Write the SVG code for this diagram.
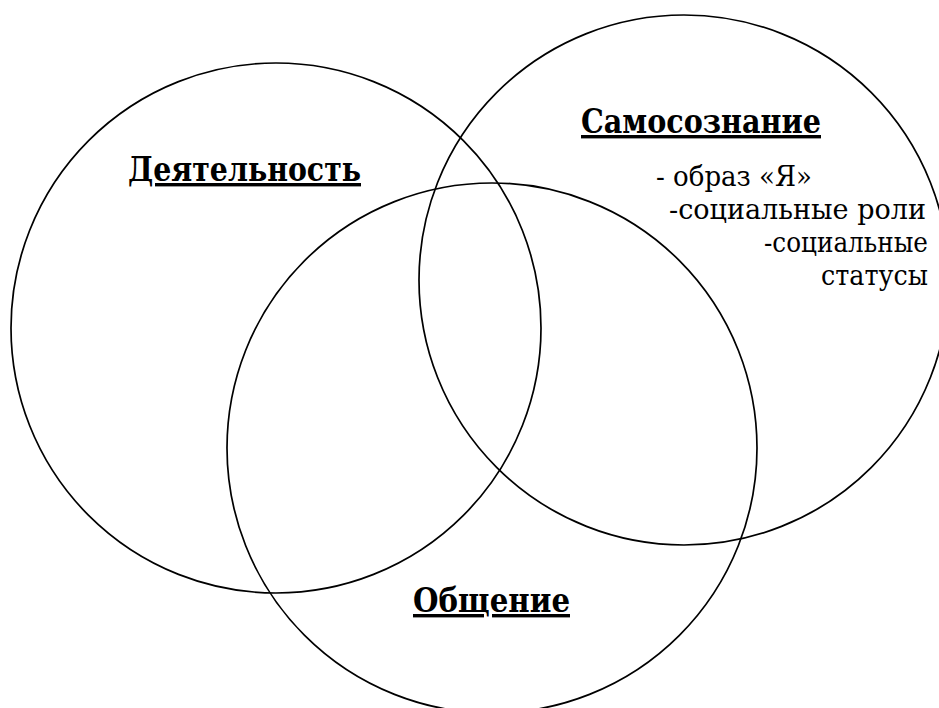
<svg xmlns="http://www.w3.org/2000/svg" width="939" height="708" viewBox="0 0 939 708">
<style>
.c{fill:none;stroke:#000;stroke-width:1.7}
.h{font-family:'DejaVu Serif',serif;font-weight:bold;font-size:34px;text-decoration:underline;fill:#000}
.t{font-family:'DejaVu Serif',serif;font-size:28px;fill:#000}
.e{text-anchor:end}
</style>
<rect width="939" height="708" fill="#fff"/>
<g id="deyatelnost">
<circle class="c" cx="276" cy="328" r="265"/>
<text class="h" x="128" y="181" textLength="233" lengthAdjust="spacingAndGlyphs">Деятельность</text>
</g>
<g id="samosoznanie">
<circle class="c" cx="684" cy="280" r="265"/>
<text class="h" x="581" y="133" textLength="240" lengthAdjust="spacingAndGlyphs">Самосознание</text>
<text class="t" x="656" y="186" textLength="156" lengthAdjust="spacingAndGlyphs">- образ «Я»</text>
<text class="t" x="669" y="219" textLength="257" lengthAdjust="spacingAndGlyphs">-социальные роли</text>
<text class="t e" x="928" y="252" textLength="164" lengthAdjust="spacingAndGlyphs">-социальные</text>
<text class="t e" x="928" y="285" textLength="107" lengthAdjust="spacingAndGlyphs">статусы</text>
</g>
<g id="obshchenie">
<circle class="c" cx="492" cy="448" r="265"/>
<text class="h" x="413" y="612" textLength="157" lengthAdjust="spacingAndGlyphs">Общение</text>
</g>
<g id="connectors"/>
</svg>
